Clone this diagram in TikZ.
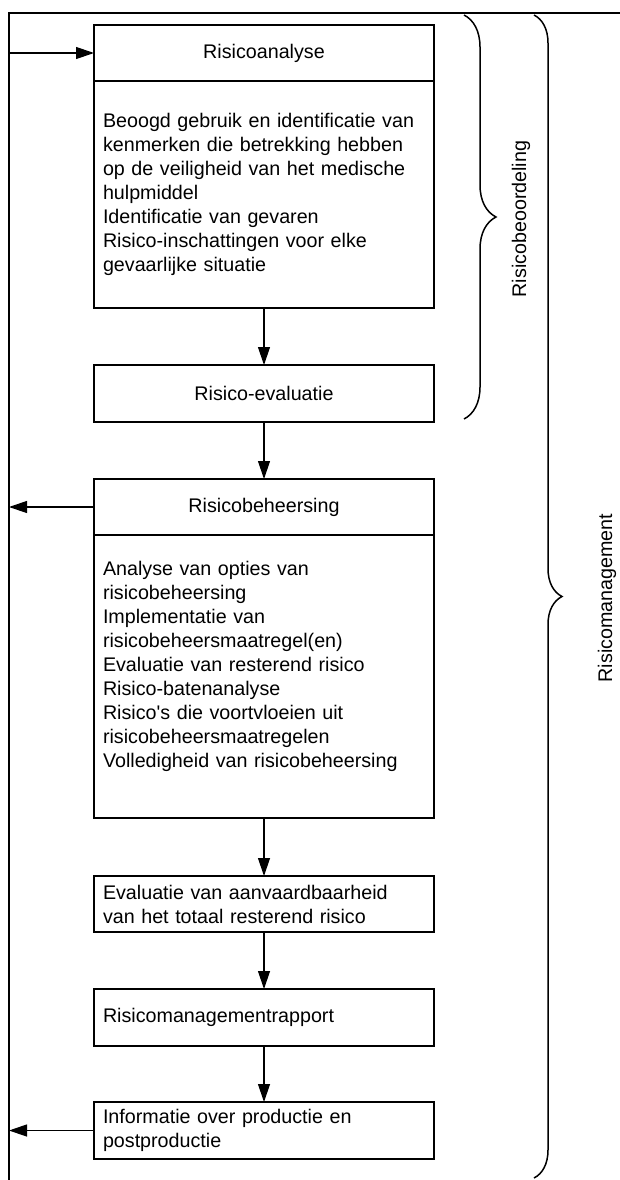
\documentclass[tikz,border=0pt]{standalone}
\usepackage{fontspec}
\setmainfont{Liberation Sans}
\usetikzlibrary{positioning, arrows.meta, decorations.pathreplacing}

\begin{document}
\begin{tikzpicture}[
    x=1pt, y=-1pt,
    font=\fontsize{19.7}{24}\selectfont,
    node distance=57pt,
    box/.style={
        rectangle, draw=black, line width=1.2pt, outer sep=0pt,
        minimum height=56pt, text width=322pt, inner xsep=9pt, inner ysep=0pt,
        align=#1
    },
    box/.default=left,
    arr/.style={-{Triangle[length=18pt, width=12pt]}, draw=black, line width=1.2pt},
    brc/.style={decorate, decoration={brace, amplitude=#1}, draw=black, line width=1.5pt},
    lbl/.style={rotate=90, inner sep=0pt},
]
\useasboundingbox (0,0) rectangle (620,1180);

% ---------------------------------------------------------------- outer loop
\coordinate (tr) at (620,13);
\coordinate (tl) at (9,13);
\coordinate (bl) at (9,1180);
\draw [line width=1.2pt] (tr) -- (tl) -- (bl);

% ---------------------------------------------------------------- analysis
\node (ra)     [box=center] at (264,53) {Risicoanalyse};
\node (rabody) [box, below=0pt of ra, minimum height=227pt]
    {Beoogd gebruik en identificatie van\\kenmerken die betrekking hebben\\op de veiligheid van het medische\\hulpmiddel\\Identificatie van gevaren\\Risico-inschattingen voor elke\\gevaarlijke situatie};
\node (re)     [box=center, below=of rabody, minimum height=57pt] {Risico-evaluatie};

% ---------------------------------------------------------------- control
\node (rb)     [box=center, below=of re] {Risicobeheersing};
\node (rbbody) [box, below=0pt of rb, minimum height=283pt]
    {Analyse van opties van\\risicobeheersing\\Implementatie van\\risicobeheersmaatregel(en)\\Evaluatie van resterend risico\\Risico-batenanalyse\\Risico\textquotesingle s die voortvloeien uit\\risicobeheersmaatregelen\\Volledigheid van risicobeheersing\\~};

% ---------------------------------------------------------------- reporting
\node (ev)     [box, below=58pt of rbbody] {Evaluatie van aanvaardbaarheid\\van het totaal resterend risico};
\node (rapp)   [box, below=of ev, minimum height=57pt] {Risicomanagementrapport};
\node (info)   [box, below=56pt of rapp, minimum height=57pt] {Informatie over productie en\\postproductie};

\draw [arr] (rabody) -- (re);
\draw [arr] (re)     -- (rb);
\draw [arr] (rbbody) -- (ev);
\draw [arr] (ev)     -- (rapp);
\draw [arr] (rapp)   -- (info);

\draw [arr] (ra.west -| tl) -- (ra.west);
\draw [arr] (rb.west)   -- (rb.west -| tl);
\draw [arr] (info.west) -- (info.west -| tl);

% ---------------------------------------------------------------- braces
\coordinate (b1top) at (464,15);
\coordinate (b1bot) at (464,419);
\coordinate (b2top) at (534,15);
\coordinate (b2bot) at (534,1178);
\draw [brc=32pt] (b1top) -- (b1bot);
\draw [brc=28pt] (b2top) -- (b2bot);

\node (beoord) [lbl] at (521,219) {Risicobeoordeling};
\node (mgmt)   [lbl] at (607,598) {Risicomanagement};

\end{tikzpicture}
\end{document}
